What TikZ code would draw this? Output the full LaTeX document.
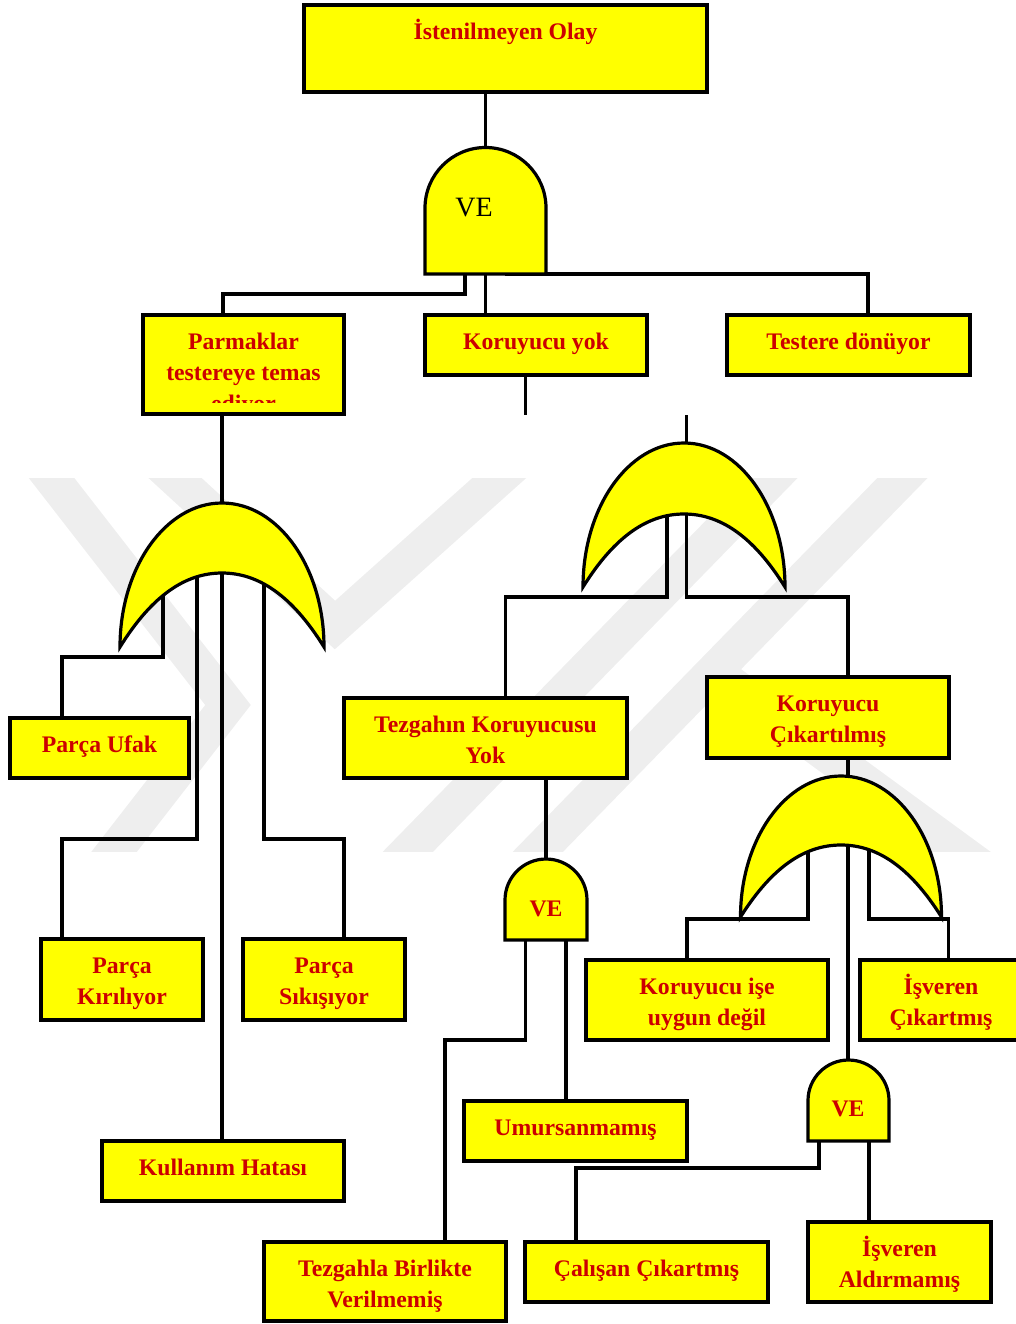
\documentclass[tikz,border=0pt]{standalone}
\usepackage{fontspec}
\setmainfont{Liberation Serif}
\usetikzlibrary{fit,calc}
\definecolor{evred}{RGB}{204,0,0}
\definecolor{evyellow}{RGB}{255,255,0}
\definecolor{wmgray}{RGB}{238,238,238}
\pgfdeclarelayer{wm}
\pgfdeclarelayer{bg}
\pgfsetlayers{wm,bg,main}

% OR gate: centre x, outer apex y, tip y, half width, inner apex y
\newcommand{\orgate}[5]{%
  \pgfmathsetmacro\ogL{#1-#4}%
  \pgfmathsetmacro\ogR{#1+#4}%
  \pgfmathsetmacro\ogKa{#3-0.552*(#3-#2)}%
  \pgfmathsetmacro\ogKx{0.552*#4}%
  \pgfmathsetmacro\ogIl{#1-0.68*#4}%
  \pgfmathsetmacro\ogIr{#1+0.68*#4}%
  \pgfmathsetmacro\ogIy{#3-0.71*(#3-#5)}%
  \pgfmathsetmacro\ogIc{0.35*#4}%
  \path[gateshape] (\ogL,#3) .. controls (\ogL,\ogKa) and ({#1-\ogKx},#2) .. (#1,#2)
    .. controls ({#1+\ogKx},#2) and (\ogR,\ogKa) .. (\ogR,#3)
    .. controls (\ogIr,\ogIy) and ({#1+\ogIc},#5) .. (#1,#5)
    .. controls ({#1-\ogIc},#5) and (\ogIl,\ogIy) .. (\ogL,#3) -- cycle;}

% AND gate: left x, right x, top y, bottom y
\newcommand{\andgate}[4]{%
  \pgfmathsetmacro\agR{(#2-#1)/2}%
  \pgfmathsetmacro\agC{(#1+#2)/2}%
  \pgfmathsetmacro\agY{#3+\agR}%
  \pgfmathsetmacro\agK{0.552*\agR}%
  \path[gateshape] (#1,#4) -- (#1,\agY)
    .. controls (#1,{\agY-\agK}) and ({\agC-\agK},#3) .. (\agC,#3)
    .. controls ({\agC+\agK},#3) and (#2,{\agY-\agK}) .. (#2,\agY)
    -- (#2,#4) -- cycle;}

\begin{document}
\begin{tikzpicture}[x=0.75pt,y=-0.75pt,
  evbox/.style={draw=black, line width=2.9pt, fill=evyellow, inner sep=0pt, outer sep=0pt, rectangle},
  evtxt/.style={font=\bfseries\fontsize{17.8pt}{23.6pt}\selectfont, text=evred, align=center,
                anchor=base, inner sep=0pt, yshift=-25.5pt},
  twolines/.style={yshift=-23.6pt},
  threelines/.style={yshift=-47.2pt},
  conn/.style={draw=black, line width=2.4pt},
  gateshape/.style={draw=black, line width=2.4pt, fill=evyellow},
  velbl/.style={font=\bfseries\fontsize{17.8pt}{20pt}\selectfont, text=evred, anchor=base, inner sep=0pt},
  wmband/.style={draw=wmgray, line width=27pt, line join=miter}
]
\useasboundingbox (0,0) rectangle (1015,1324);

% faint emblem in the background
\begin{pgfonlayer}{wm}
  \begin{scope}
    \clip (0,478) rectangle (1015,851);
    \draw[wmband] (22,440) -- (228,705) -- (100,870);
    \draw[wmband] (150,455) -- (335,625) -- (525,455);
    \draw[wmband] (790,460) -- (395,865);
    \draw[wmband] (920,460) -- (525,865);
    \draw[wmband] (709,668) -- (985,870);
  \end{scope}
\end{pgfonlayer}

% event boxes
\node[evbox, fit={(304,5)(707,92)}]      (b-top)   {};
\node[evbox, fit={(143,315)(344,414)}]   (b-parm)  {};
\node[evbox, fit={(425,315)(647,375)}]   (b-kyok)  {};
\node[evbox, fit={(727,315)(970,375)}]   (b-test)  {};
\node[evbox, fit={(10,718)(189,778)}]    (b-ufak)  {};
\node[evbox, fit={(344,698)(627,778)}]   (b-tezg)  {};
\node[evbox, fit={(707,677)(949,758)}]   (b-kcik)  {};
\node[evbox, fit={(41,939)(203,1020)}]   (b-kiril) {};
\node[evbox, fit={(243,939)(405,1020)}]  (b-sikis) {};
\node[evbox, fit={(586,960)(828,1040)}]  (b-ise)   {};
\node[evbox, fit={(860,960)(1022,1040)}] (b-isc)   {};
\node[evbox, fit={(464,1101)(687,1161)}] (b-umur)  {};
\node[evbox, fit={(102,1141)(344,1201)}] (b-kull)  {};
\node[evbox, fit={(264,1242)(506,1321)}] (b-tezb)  {};
\node[evbox, fit={(525,1242)(768,1302)}] (b-calis) {};
\node[evbox, fit={(808,1222)(991,1302)}] (b-ald)   {};

% box texts
\node[evtxt] (t-top)   at (b-top.north)   {İstenilmeyen Olay};
\begin{scope}
  \clip (146,318) rectangle (341,402);
  \node[evtxt, threelines] (t-parm) at (b-parm.north) {Parmaklar\\testereye temas\\ediyor};
\end{scope}
\node[evtxt] (t-kyok)  at (b-kyok.north)  {Koruyucu yok};
\node[evtxt] (t-test)  at (b-test.north)  {Testere dönüyor};
\node[evtxt] (t-ufak)  at (b-ufak.north)  {Parça Ufak};
\node[evtxt, twolines] (t-tezg)  at (b-tezg.north)  {Tezgahın Koruyucusu\\Yok};
\node[evtxt, twolines] (t-kcik)  at (b-kcik.north)  {Koruyucu\\Çıkartılmış};
\node[evtxt, twolines] (t-kiril) at (b-kiril.north) {Parça\\Kırılıyor};
\node[evtxt, twolines] (t-sikis) at (b-sikis.north) {Parça\\Sıkışıyor};
\node[evtxt, twolines] (t-ise)   at (b-ise.north)   {Koruyucu işe\\uygun değil};
\node[evtxt, twolines] (t-isc)   at (b-isc.north)   {İşveren\\Çıkartmış};
\node[evtxt] (t-umur)  at (b-umur.north)  {Umursanmamış};
\node[evtxt] (t-kull)  at (b-kull.north)  {Kullanım Hatası};
\node[evtxt, twolines] (t-tezb)  at (b-tezb.north)  {Tezgahla Birlikte\\Verilmemiş};
\node[evtxt] (t-calis) at (b-calis.north) {Çalışan Çıkartmış};
\node[evtxt, twolines] (t-ald)   at (b-ald.north)   {İşveren\\Aldırmamış};

% gate ports and bends
\coordinate (and0-in) at (485.5,150);
\coordinate (and0-l)  at (465,272);
\coordinate (and0-m)  at (485.5,272);
\coordinate (and0-r)  at (505,274);
\coordinate (j-parm)  at (223,294);
\coordinate (j-test)  at (868,274);
\coordinate (kyok-end) at (525.5,415);
\coordinate (orB-free) at (686.5,415);
\coordinate (orB-in)  at (686.5,447);
\coordinate (orA-in)  at (222,506);
\coordinate (orA-1)   at (163,571);
\coordinate (orA-2)   at (197,571);
\coordinate (orA-3)   at (222,571);
\coordinate (orA-4)   at (264,571);
\coordinate (j-ufak)  at (62,657);
\coordinate (j-kiril) at (62,839);
\coordinate (j-sikis) at (344,839);
\coordinate (orB-1)   at (667,512);
\coordinate (orB-2)   at (686.5,512);
\coordinate (j-tezg)  at (505.5,597);
\coordinate (j-kcik)  at (848,597);
\coordinate (and1-in) at (546,862);
\coordinate (and1-l)  at (525.5,938);
\coordinate (and1-r)  at (566,938);
\coordinate (j-tezb)  at (445,1040);
\coordinate (orC-in)  at (848,780);
\coordinate (orC-1)   at (808,843);
\coordinate (orC-2)   at (848,843);
\coordinate (orC-3)   at (869,843);
\coordinate (j-ise)   at (687,919);
\coordinate (j-isc)   at (948.5,919);
\coordinate (and2-in) at (848,1063);
\coordinate (and2-l)  at (819,1139);
\coordinate (and2-r)  at (869,1139);
\coordinate (j-calis) at (576,1168);

% connectors
\begin{pgfonlayer}{bg}
  \draw[conn] (b-top.south -| and0-in) -- (and0-in);
  \draw[conn] (and0-l) |- (j-parm) -- (j-parm |- b-parm.north);
  \draw[conn] (and0-m) -- (and0-m |- b-kyok.north);
  \draw[conn] (and0-r) -- (j-test) -- (j-test |- b-test.north);
  \draw[conn] (kyok-end |- b-kyok.south) -- (kyok-end);
  \draw[conn] (orB-free) -- (orB-in);
  \draw[conn] (b-parm.south -| orA-in) -- (orA-in);
  \draw[conn] (orA-1) |- (j-ufak) -- (j-ufak |- b-ufak.north);
  \draw[conn] (orA-2) |- (j-kiril) -- (j-kiril |- b-kiril.north);
  \draw[conn] (orA-3) -- (orA-3 |- b-kull.north);
  \draw[conn] (orA-4) |- (j-sikis) -- (j-sikis |- b-sikis.north);
  \draw[conn] (orB-1) |- (j-tezg) -- (j-tezg |- b-tezg.north);
  \draw[conn] (orB-2) |- (j-kcik) -- (j-kcik |- b-kcik.north);
  \draw[conn] (b-tezg.south -| and1-in) -- (and1-in);
  \draw[conn] (and1-l) |- (j-tezb) -- (j-tezb |- b-tezb.north);
  \draw[conn] (and1-r) -- (and1-r |- b-umur.north);
  \draw[conn] (b-kcik.south -| orC-in) -- (orC-in);
  \draw[conn] (orC-1) |- (j-ise) -- (j-ise |- b-ise.north);
  \draw[conn] (orC-2) -- (and2-in);
  \draw[conn] (orC-3) |- (j-isc) -- (j-isc |- b-isc.north);
  \draw[conn] (and2-l) |- (j-calis) -- (j-calis |- b-calis.north);
  \draw[conn] (and2-r) -- (and2-r |- b-ald.north);
\end{pgfonlayer}

% gates
\andgate{425}{546}{147.5}{274}
\node[font=\fontsize{21pt}{24pt}\selectfont, anchor=base, inner sep=0pt] (ve0) at (474,216) {VE};
\orgate{222}{503}{647}{102}{573}
\orgate{684}{443}{587}{101}{514}
\andgate{505}{587}{859}{940}
\node[velbl] (ve1) at (546,916) {VE};
\orgate{841}{776}{917}{100.5}{845}
\andgate{808}{889}{1060}{1141}
\node[velbl] (ve2) at (848,1116.5) {VE};
\end{tikzpicture}
\end{document}
